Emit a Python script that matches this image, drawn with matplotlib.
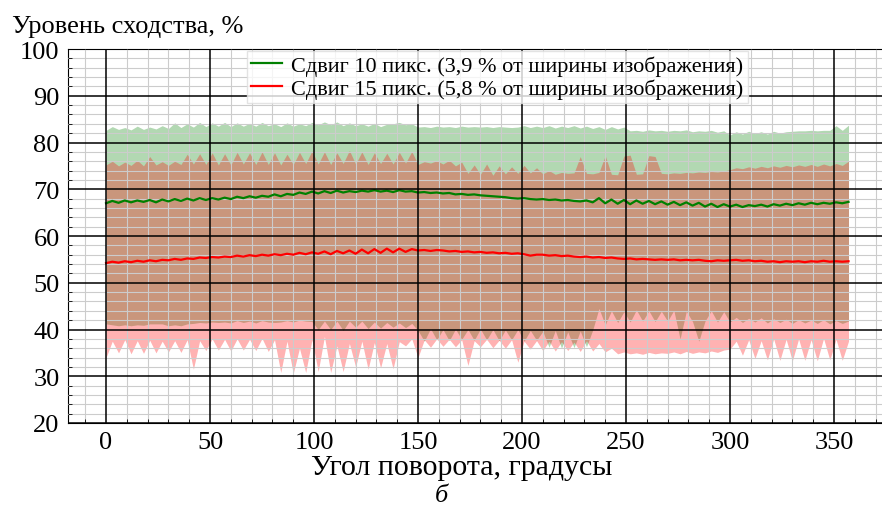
#!/usr/bin/env python3
# -*- coding: utf-8 -*-

import numpy as np
import matplotlib
matplotlib.use("Agg")
import matplotlib.pyplot as plt
from matplotlib.ticker import MultipleLocator

# ---------------------------
# Dados (passo de 3 graus)
# ---------------------------
angles = np.arange(0, 360, 3)

# Сдвиг 10 пикс. -- média
g_mean = [
    67.0, 67.5, 67.1, 67.6, 67.2, 67.6, 67.3, 67.7, 67.2, 67.8,
    67.4, 67.9, 67.5, 68.0, 67.6, 68.1, 67.7, 68.1, 67.8, 68.2,
    67.9, 68.4, 68.1, 68.5, 68.2, 68.6, 68.4, 68.9, 68.5, 69.0,
    68.8, 69.3, 69.0, 69.5, 69.1, 69.6, 69.2, 69.7, 69.3, 69.6,
    69.4, 69.7, 69.5, 69.8, 69.5, 69.7, 69.4, 69.8, 69.5, 69.6,
    69.3, 69.4, 69.2, 69.3, 69.1, 69.2, 68.9, 69.0, 68.8, 68.9,
    68.7, 68.6, 68.5, 68.4, 68.3, 68.1, 68.0, 68.1, 67.9, 67.8,
    67.9, 67.7, 67.8, 67.6, 67.7, 67.5, 67.4, 67.6, 67.2, 68.1,
    67.0, 67.8, 66.9, 67.7, 66.8, 67.6, 66.9, 67.5, 66.8, 67.4,
    66.7, 67.3, 66.6, 67.2, 66.5, 67.1, 66.3, 66.9, 66.2, 66.8,
    66.3, 66.7, 66.2, 66.6, 66.4, 66.7, 66.3, 66.8, 66.5, 66.9,
    66.6, 67.0, 66.7, 67.1, 66.8, 67.1, 66.9, 67.2, 67.0, 67.3,
]
g_hi = [
    82.6, 83.4, 82.8, 83.2, 82.7, 83.5, 82.8, 83.3, 82.9, 83.6,
    83.0, 84.2, 83.2, 84.0, 83.3, 84.3, 83.4, 84.2, 83.5, 84.3,
    83.4, 84.2, 83.5, 84.1, 83.5, 84.3, 83.6, 84.0, 83.4, 84.2,
    83.5, 84.0, 83.6, 84.3, 83.8, 84.4, 83.8, 84.4, 83.6, 84.2,
    83.6, 84.0, 83.5, 84.1, 83.4, 83.9, 84.0, 84.3, 83.8, 84.0,
    83.3, 83.4, 83.2, 83.5, 83.3, 83.4, 83.2, 83.5, 83.3, 83.4,
    83.3, 83.4, 83.2, 83.4, 83.3, 83.2, 83.3, 83.6, 83.2, 83.5,
    83.2, 83.6, 83.1, 83.5, 83.2, 83.6, 83.1, 83.5, 83.0, 83.4,
    82.8, 83.4, 82.9, 83.3, 82.5, 82.6, 82.4, 82.7, 82.5, 82.6,
    82.4, 82.6, 82.5, 82.7, 82.3, 82.5, 82.4, 82.6, 82.2, 82.5,
    81.6, 82.3, 81.8, 82.4, 81.9, 82.3, 81.8, 82.4, 82.0, 82.3,
    82.4, 82.5, 82.5, 82.6, 82.5, 82.6, 82.6, 83.6, 82.6, 83.7,
]
g_lo = [
    41.2, 41.0, 40.8, 41.0, 40.8, 41.0, 40.9, 41.2, 41.2, 41.2,
    40.8, 41.0, 40.8, 41.2, 41.3, 41.5, 41.4, 41.6, 41.5, 41.6,
    41.4, 41.9, 41.5, 41.8, 41.4, 41.9, 41.6, 41.5, 41.6, 41.9,
    41.6, 42.0, 41.8, 41.7, 40.0, 41.8, 40.0, 41.8, 39.8, 41.8,
    40.5, 41.8, 40.2, 41.6, 40.3, 41.5, 40.5, 41.4, 40.4, 41.3,
    39.8, 37.5, 40.2, 37.8, 40.0, 37.6, 40.1, 37.9, 40.0, 37.7,
    40.1, 37.8, 40.0, 37.6, 39.9, 37.8, 40.0, 37.5, 39.8, 37.7,
    39.6, 36.2, 39.8, 36.0, 39.5, 36.1, 39.7, 36.3, 39.9, 44.5,
    41.0, 44.0, 41.5, 43.8, 41.6, 44.2, 41.8, 44.0, 41.7, 43.9,
    41.8, 44.1, 38.0, 43.9, 41.7, 37.5, 41.8, 44.0, 41.6, 43.8,
    41.6, 42.6, 41.5, 42.4, 41.6, 42.5, 41.4, 42.3, 41.5, 42.2,
    41.3, 42.1, 41.4, 42.0, 41.3, 42.1, 41.2, 41.9, 41.3, 41.8,
]

# Сдвиг 15 пикс. -- média
r_mean = [
    54.2, 54.5, 54.3, 54.6, 54.4, 54.7, 54.5, 54.8, 54.6, 54.9,
    54.8, 55.1, 54.9, 55.2, 55.1, 55.4, 55.3, 55.5, 55.4, 55.6,
    55.5, 55.8, 55.6, 55.9, 55.7, 56.0, 55.8, 56.1, 55.9, 56.2,
    56.0, 56.4, 56.1, 56.5, 56.2, 56.7, 56.1, 56.8, 56.3, 56.9,
    56.2, 57.1, 56.3, 57.2, 56.4, 57.3, 56.5, 57.3, 56.6, 57.2,
    56.9, 57.0, 56.8, 57.0, 56.9, 56.7, 56.8, 56.6, 56.7, 56.5,
    56.6, 56.4, 56.5, 56.3, 56.4, 56.2, 56.3, 56.1, 55.8, 56.0,
    56.0, 55.8, 55.9, 55.7, 55.8, 55.6, 55.5, 55.6, 55.4, 55.5,
    55.3, 55.4, 55.2, 55.1, 55.2, 55.0, 55.1, 55.0, 54.9, 55.0,
    54.9, 55.0, 54.8, 54.9, 54.8, 54.9, 54.7, 54.6, 54.8, 54.7,
    54.8, 54.9, 54.7, 54.8, 54.6, 54.7, 54.5, 54.6, 54.4, 54.6,
    54.5, 54.6, 54.4, 54.6, 54.5, 54.7, 54.5, 54.6, 54.5, 54.6,
]
r_hi = [
    75.2, 76.0, 75.0, 75.8, 75.1, 76.2, 75.0, 77.0, 75.2, 75.9,
    75.1, 76.0, 75.3, 77.5, 75.4, 77.6, 75.3, 77.8, 75.2, 77.6,
    75.2, 77.9, 75.4, 77.8, 75.3, 78.0, 75.3, 77.8, 75.2, 77.5,
    75.3, 77.9, 75.5, 78.2, 75.4, 78.0, 75.3, 77.8, 75.5, 78.3,
    75.4, 78.0, 75.3, 77.8, 75.5, 77.7, 75.4, 77.9, 75.6, 78.1,
    75.3, 75.9, 75.6, 76.1, 75.4, 76.2, 75.0, 75.8, 73.4, 75.2,
    73.2, 75.4, 73.0, 75.0, 73.3, 74.8, 73.4, 75.1, 73.5, 74.6,
    73.3, 74.0, 73.2, 73.6, 73.4, 73.5, 77.0, 73.4, 73.3, 73.6,
    77.2, 73.2, 73.1, 77.1, 77.3, 73.2, 73.3, 77.2, 77.0, 73.4,
    73.3, 73.5, 73.4, 73.6, 73.5, 73.7, 73.6, 73.8, 73.7, 73.9,
    74.2, 74.6, 74.4, 74.8, 74.5, 74.9, 74.6, 75.0, 74.7, 75.1,
    74.8, 75.2, 74.9, 75.3, 74.9, 75.4, 75.0, 75.5, 75.1, 76.0,
]
r_lo = [
    34.0, 37.5, 35.0, 37.8, 34.8, 37.6, 34.9, 37.7, 35.0, 37.5,
    35.2, 37.6, 35.1, 37.8, 31.5, 37.6, 35.5, 38.0, 35.6, 37.9,
    35.4, 38.0, 35.6, 37.9, 35.5, 38.1, 35.3, 37.8, 30.8, 37.5,
    30.6, 36.0, 30.8, 37.8, 31.0, 38.5, 30.8, 36.5, 31.0, 37.0,
    32.0, 37.5, 31.5, 37.2, 31.8, 37.0, 31.6, 37.4, 36.5, 38.0,
    34.0, 37.8, 36.2, 38.0, 36.4, 37.9, 36.3, 37.8, 32.3, 37.6,
    36.3, 37.9, 36.1, 37.7, 36.0, 37.8, 33.0, 37.5, 35.8, 37.6,
    35.5, 37.5, 35.4, 37.4, 35.5, 37.3, 35.3, 37.6, 35.4, 37.0,
    35.2, 36.0, 34.8, 35.2, 34.8, 35.0, 34.7, 35.1, 34.8, 35.0,
    34.9, 35.2, 34.8, 35.3, 34.9, 35.2, 35.0, 35.4, 35.1, 35.6,
    35.8, 37.5, 34.5, 37.8, 33.8, 37.6, 33.5, 38.0, 33.4, 37.9,
    33.3, 38.0, 33.4, 37.8, 33.3, 38.1, 33.5, 37.9, 33.4, 37.5,
]

labels = ["Сдвиг 10 пикс. (3,9 % от ширины изображения)",
          "Сдвиг 15 пикс. (5,8 % от ширины изображения)"]

# ---------------------------
# Gráfico
# ---------------------------
plt.rcParams["font.family"] = ["Liberation Serif", "DejaVu Serif"]

XLIM = (-18.3, 373.1)
YLIM = (20, 100)
rect = [68/882, 1 - 424/510, 1 - 68/882, 374/510]
fig = plt.figure(figsize=(8.82, 5.10), dpi=100)
ax = fig.add_axes(rect)

ax.fill_between(angles, g_lo, g_hi, color="green", alpha=0.3, linewidth=0)
ax.fill_between(angles, r_lo, r_hi, color="red", alpha=0.3, linewidth=0)
ax.plot(angles, g_mean, color="green", lw=1.6, label=labels[0], zorder=3)
ax.plot(angles, r_mean, color="red", lw=1.6, label=labels[1], zorder=3)

ax.set_xlim(*XLIM)
ax.set_ylim(*YLIM)
ax.xaxis.set_major_locator(MultipleLocator(50))
ax.xaxis.set_minor_locator(MultipleLocator(10))
ax.yaxis.set_major_locator(MultipleLocator(10))
ax.yaxis.set_minor_locator(MultipleLocator(2))

# grade menor no eixo principal
ax.set_axisbelow(False)
ax.grid(which="minor", color="#cccccc", lw=0.8)
ax.tick_params(which="both", direction="in", labelsize=19)
ax.tick_params(which="major", length=0, pad=6)
ax.tick_params(which="minor", length=3)
ax.spines["right"].set_visible(False)

# grade maior num eixo sobreposto (por cima da grade menor)
top = fig.add_axes(rect)
top.set_xlim(*XLIM)
top.set_ylim(*YLIM)
top.xaxis.set_major_locator(MultipleLocator(50))
top.yaxis.set_major_locator(MultipleLocator(10))
top.patch.set_visible(False)
top.grid(which="major", color="black", lw=1.1)
top.tick_params(which="both", length=0, labelbottom=False, labelleft=False)
for s in top.spines.values():
    s.set_visible(False)

ax.set_xlabel("Угол поворота, градусы", fontsize=21.5, va="baseline")
ax.xaxis.set_label_coords((462 - 68) / 814, -(475 - 424) / 374)
fig.text(12/882, 1 - 33/510, "Уровень сходства, %", fontsize=19, va="baseline")
fig.text(441/882, 1 - 502/510, "б", fontsize=19, style="italic", ha="center", va="baseline")

top.legend(*ax.get_legend_handles_labels(),
           loc="upper left", bbox_to_anchor=(0.217, 1.0), borderaxespad=0.1,
           fontsize=16, handlelength=1.4, handletextpad=0.4, labelspacing=0.1,
           borderpad=0.2, fancybox=False, edgecolor="#dddddd")

plt.savefig("out.png", dpi=100)
plt.close()
